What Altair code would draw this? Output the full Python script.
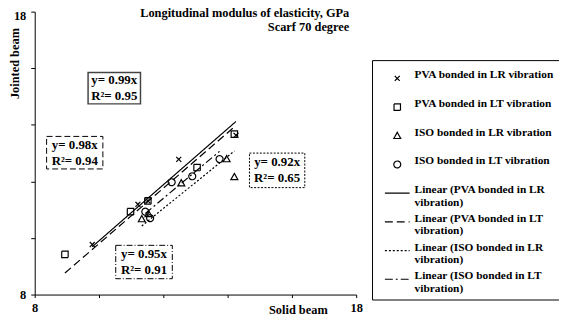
import altair as alt
import pandas as pd

# ---------------- data ----------------
series_names = [
    "PVA bonded in LR vibration",
    "PVA bonded in LT vibration",
    "ISO bonded in LR vibration",
    "ISO bonded in LT vibration",
]
fit_names = ["Linear (" + s + ")" for s in series_names]

pva_lr_x = [9.79, 11.21, 11.52, 12.48, 14.26]
pva_lr_y = [9.77, 11.19, 11.31, 12.78, 13.63]
pva_lt_x = [8.94, 10.98, 11.52, 13.05, 14.21]
pva_lt_y = [9.42, 10.93, 11.31, 12.49, 13.67]
iso_lr_x = [11.33, 11.54, 12.56, 13.97, 14.21]
iso_lr_y = [10.67, 10.85, 11.94, 12.79, 12.16]
iso_lt_x = [11.44, 11.59, 12.26, 12.90, 13.75]
iso_lt_y = [10.93, 10.70, 11.97, 12.18, 12.79]

slopes = [0.99, 0.98, 0.92, 0.95]

ann_text = ["y= 0.99x\nR²= 0.95", "y= 0.98x\nR²= 0.94", "y= 0.95x\nR²= 0.91", "y= 0.92x\nR²= 0.65"]
ann_x1 = [9.66, 8.37, 10.52, 14.68]
ann_x2 = [11.29, 10.12, 12.28, 16.40]
ann_y1 = [15.85, 13.59, 9.74, 13.00]
ann_y2 = [14.74, 12.44, 8.56, 11.78]

title_lines = ["Longitudinal modulus of elasticity, GPa", "Scarf 70 degree"]
x_title = "Solid beam"
y_title = "Jointed beam"
tick_values = [8, 10, 12, 14, 16, 18]

# ---------------- tables ----------------
xs = [pva_lr_x, pva_lt_x, iso_lr_x, iso_lt_x]
ys = [pva_lr_y, pva_lt_y, iso_lr_y, iso_lt_y]
rows = []
for name, xv, yv in zip(series_names, xs, ys):
    for a, b in zip(xv, yv):
        rows.append({"series": name, "x": a, "y": b})
pts = pd.DataFrame(rows)

frows = []
for name, xv, k in zip(fit_names, xs, slopes):
    for a in (min(xv), max(xv)):
        frows.append({"series": name, "x": a, "y": k * a})
fits = pd.DataFrame(frows)

ann = pd.DataFrame({
    "idx": list(range(len(ann_text))),
    "text": ann_text,
    "x1": ann_x1, "x2": ann_x2, "y1": ann_y1, "y2": ann_y2,
})
ann["cx"] = (ann["x1"] + ann["x2"]) / 2
ann["cy"] = (ann["y1"] + ann["y2"]) / 2

# ---------------- styling ----------------
FONT = "Liberation Serif"
domain = series_names + fit_names
shape_range = [
    "M-0.2,-0.2L0.2,0.2M-0.2,0.2L0.2,-0.2",
    "M-0.26,-0.26H0.26V0.26H-0.26Z",
    "M0,-0.28L0.28,0.22L-0.28,0.22Z",
    "M0.28,0A0.28,0.28,0,1,1,-0.28,0A0.28,0.28,0,1,1,0.28,0",
    "M-1,0H1", "M-1,0H1", "M-1,0H1", "M-1,0H1",
]
dash_range = [[1, 0], [1, 0], [1, 0], [1, 0], [1, 0], [8, 4], [2, 2], [8, 3, 2, 3]]

legend = alt.Legend(
    title=None, orient="none", legendX=341, legendY=49,
    strokeColor="black", fillColor="white", padding=5, symbolOffset=7,
    labelFont=FONT, labelFontSize=11.5, labelFontWeight="bold", labelColor="black",
    labelLimit=400, labelOffset=4, labelBaseline="alphabetic",
    labelExpr="indexof(datum.label, 'Linear') == 0 ? [replace(datum.label, ' vibration)', ''), 'vibration)'] : datum.label",
    symbolSize=625, symbolStrokeWidth=1.2, symbolStrokeColor="black",
    rowPadding=0, gridAlign="all",
)

lab_expr = "datum.value == 8 || datum.value == 18 ? datum.label : ''"
xaxis = alt.Axis(
    values=tick_values, labelExpr=lab_expr, grid=False, tickSize=3, labelPadding=4,
    labelFlush=False, labelOverlap=False,
    labelFont=FONT, labelFontSize=12.5, labelFontWeight="bold", labelColor="black",
    domainColor="black", tickColor="black",
    titleFont=FONT, titleFontSize=12.5, titleFontWeight="bold", titleColor="black",
    titleX=266, titleY=15, titleAlign="center", titleBaseline="middle",
)
yaxis = alt.Axis(
    values=tick_values, labelExpr=lab_expr, grid=False, tickSize=4, labelPadding=5,
    labelFlush=False, labelOverlap=False,
    labelOffset={"condition": {"test": "datum.value == 18", "value": 4}, "value": 0},
    labelFont=FONT, labelFontSize=12.5, labelFontWeight="bold", labelColor="black",
    domainColor="black", tickColor="black",
    titleFont=FONT, titleFontSize=12.5, titleFontWeight="bold", titleColor="black",
    titleX=-20, titleY=52, titleAngle=270, titleAlign="center", titleBaseline="middle",
)

xs_scale = alt.Scale(domain=[8, 18], nice=False, zero=False)
ys_scale = alt.Scale(domain=[8, 18], nice=False, zero=False)

# ---------------- layers ----------------
box_dashes = [[1, 0], [6, 3], [6, 2, 1, 2], [2, 1.5]]
box_colors = ["#444444", "black", "black", "black"]
box_widths = [1.5, 1, 1, 1]
boxes = []
for i in range(len(ann_text)):
    boxes.append(
        alt.Chart(ann[ann["idx"] == i]).mark_rect(
            fill="white", stroke=box_colors[i], strokeWidth=box_widths[i], strokeDash=box_dashes[i]
        ).encode(
            x=alt.X("x1:Q", scale=xs_scale, axis=xaxis, title=x_title),
            x2="x2:Q",
            y=alt.Y("y1:Q", scale=ys_scale, axis=yaxis, title=y_title),
            y2="y2:Q",
        )
    )

texts = alt.Chart(ann).mark_text(
    font=FONT, fontSize=13, fontWeight="bold", color="black", lineBreak="\n",
    lineHeight=16, align="center", baseline="middle", dy=-8,
).encode(x="cx:Q", y="cy:Q", text="text:N")

lines = alt.Chart(fits).mark_line(color="black", strokeWidth=1.2).encode(
    x="x:Q", y="y:Q",
    strokeDash=alt.StrokeDash("series:N", scale=alt.Scale(domain=domain, range=dash_range), legend=legend),
)

points = alt.Chart(pts).mark_point(
    filled=False, size=625, strokeWidth=1.2, color="black", opacity=1
).encode(
    x="x:Q", y="y:Q",
    shape=alt.Shape("series:N", scale=alt.Scale(domain=domain, range=shape_range), legend=legend),
    strokeDash=alt.StrokeDash("series:N", scale=alt.Scale(domain=domain, range=dash_range), legend=legend),
)

chart = alt.layer(*boxes, texts, lines, points).properties(
    width=325, height=286,
    padding={"left": 27, "top": 2, "right": 205, "bottom": 21},
    autosize=alt.AutoSizeParams(type="none"),
    title=alt.TitleParams(
        text=title_lines, anchor="end", orient="top", frame="group", align="right",
        dx=-7, dy=25, offset=1, baseline="top", font=FONT, fontSize=12.5, fontWeight="bold",
        color="black", lineHeight=14,
    ),
).configure(
    background="white",
    view={"strokeWidth": 0},
    style={"guide-label": {"lineHeight": 12.5}},
)

chart.save("out.html", embed_options={"renderer": "svg", "actions": False})
